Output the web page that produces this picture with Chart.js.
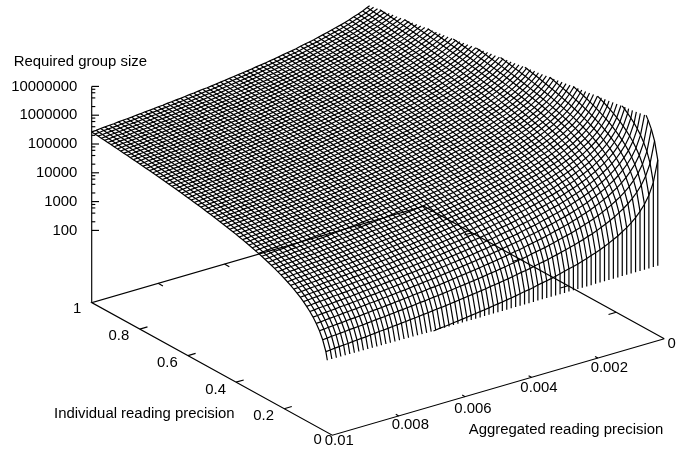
<!DOCTYPE html>
<html>
<head>
<meta charset="utf-8">
<style>html,body{margin:0;padding:0;background:#fff}canvas{display:block}</style>
<script src="https://cdn.jsdelivr.net/npm/chart.js@4"></script>
</head>
<body>
<canvas id="c" width="699" height="454"></canvas>
<script>
// ---- values ----
const aggregatedSamples = [0.0001,0.000234,0.000368,0.000501,0.000635,0.000769,0.000903,0.001036,0.00117,0.001304,0.001438,0.001572,0.001705,0.001839,0.001973,0.002107,0.00224,0.002374,0.002508,0.002642,0.002776,0.002909,0.003043,0.003177,0.003311,0.003445,0.003578,0.003712,0.003846,0.00398,0.004113,0.004247,0.004381,0.004515,0.004649,0.004782,0.004916,0.00505,0.005184,0.005317,0.005451,0.005585,0.005719,0.005853,0.005986,0.00612,0.006254,0.006388,0.006521,0.006655,0.006789,0.006923,0.007057,0.00719,0.007324,0.007458,0.007592,0.007726,0.007859,0.007993,0.008127,0.008261,0.008394,0.008528,0.008662,0.008796,0.00893,0.009063,0.009197,0.009331,0.009465,0.009599,0.009732,0.009866,0.01];
// log10(group size) along the far edge (individual precision = 1), one per aggregated sample
const log10SizeAtFullIndividual = [9.42,8.69,8.29,8.02,7.82,7.65,7.51,7.39,7.29,7.19,7.11,7.03,6.96,6.89,6.83,6.78,6.72,6.67,6.62,6.58,6.54,6.50,6.46,6.42,6.38,6.35,6.32,6.29,6.25,6.22,6.20,6.17,6.14,6.11,6.09,6.06,6.04,6.02,5.99,5.97,5.95,5.93,5.91,5.89,5.87,5.85,5.83,5.81,5.79,5.78,5.76,5.74,5.73,5.71,5.69,5.68,5.66,5.65,5.63,5.62,5.60,5.59,5.58,5.56,5.55,5.53,5.52,5.51,5.50,5.48,5.47,5.46,5.45,5.43,5.42];
const individualSamples = [0.0133,0.0267,0.04,0.0533,0.0667,0.08,0.0933,0.1067,0.12,0.1333,0.1467,0.16,0.1733,0.1867,0.2,0.2133,0.2267,0.24,0.2533,0.2667,0.28,0.2933,0.3067,0.32,0.3333,0.3467,0.36,0.3733,0.3867,0.4,0.4133,0.4267,0.44,0.4533,0.4667,0.48,0.4933,0.5067,0.52,0.5333,0.5467,0.56,0.5733,0.5867,0.6,0.6133,0.6267,0.64,0.6533,0.6667,0.68,0.6933,0.7067,0.72,0.7333,0.7467,0.76,0.7733,0.7867,0.8,0.8133,0.8267,0.84,0.8533,0.8667,0.88,0.8933,0.9067,0.92,0.9333,0.9467,0.96,0.9733,0.9867,1];
// change of log10(group size) across the surface, one per individual sample
const log10ChangeWithIndividual = [-3.75,-3.148,-2.796,-2.546,-2.352,-2.194,-2.06,-1.944,-1.842,-1.75,-1.667,-1.592,-1.522,-1.458,-1.398,-1.342,-1.289,-1.239,-1.192,-1.148,-1.106,-1.065,-1.027,-0.99,-0.954,-0.92,-0.887,-0.856,-0.825,-0.796,-0.767,-0.74,-0.713,-0.687,-0.662,-0.637,-0.614,-0.59,-0.568,-0.546,-0.524,-0.504,-0.483,-0.463,-0.444,-0.424,-0.406,-0.388,-0.37,-0.352,-0.335,-0.318,-0.301,-0.285,-0.269,-0.254,-0.238,-0.223,-0.208,-0.194,-0.179,-0.165,-0.151,-0.138,-0.124,-0.111,-0.098,-0.085,-0.072,-0.06,-0.047,-0.035,-0.023,-0.012,0];

const zTickLabels = ["100","1000","10000","100000","1000000","10000000"];
const zTickLog10 = [2,3,4,5,6,7];
const zMinorLog10 = [2.3,2.6,2.78,2.9,3.3,3.6,3.78,3.9,4.3,4.6,4.78,4.9,5.3,5.6,5.78,5.9,6.3,6.6,6.78,6.9];
const individualTicks = [0,0.2,0.4,0.6,0.8,1];
const individualTickLabels = ["0","0.2","0.4","0.6","0.8","1"];
const aggregatedTicks = [0,0.002,0.004,0.006,0.008,0.01];
const aggregatedTickLabels = ["0","0.002","0.004","0.006","0.008","0.01"];
const zAxisTitle = "Required group size";
const individualAxisTitle = "Individual reading precision";
const aggregatedAxisTitle = "Aggregated reading precision";

// ---- view of the 3D box (gnuplot-like projection onto the chart plane) ----
const view = {
  origin: [664.3, 338.8],          // floor corner aggregated=0, individual=0
  aggregatedSpan: [-332.0, 96.4],  // plane movement over aggregated 0 .. 0.01
  individualSpan: [-240.6, -132.6],// plane movement over individual 0 .. 1
  zFloorGap: 72.2,                 // height of z=100 above the floor
  pxPerDecade: 28.8,
  zMin: 2, zMax: 7
};
function project(a, i, lz) {
  const fa = a / 0.01;
  return {
    x: view.origin[0] + fa * view.aggregatedSpan[0] + i * view.individualSpan[0],
    y: view.origin[1] + fa * view.aggregatedSpan[1] + i * view.individualSpan[1]
       - (lz === null ? 0 : view.zFloorGap + (lz - view.zMin) * view.pxPerDecade)
  };
}
function clippedPolyline(samples) { // samples: [a,i,lz]; clip to the z range
  const out = [];
  const gap = {x: NaN, y: NaN};
  for (let n = 0; n < samples.length; n++) {
    const s = samples[n];
    const inside = s[2] >= view.zMin && s[2] <= view.zMax;
    if (n > 0) {
      const p = samples[n - 1];
      const pIn = p[2] >= view.zMin && p[2] <= view.zMax;
      if (pIn !== inside) {
        const lim = (pIn ? s[2] : p[2]) > view.zMax ? view.zMax : view.zMin;
        const t = (lim - p[2]) / (s[2] - p[2]);
        out.push(project(p[0] + t * (s[0] - p[0]), p[1] + t * (s[1] - p[1]), lim));
        if (!inside) out.push(gap);
      }
    }
    if (inside) out.push(project(s[0], s[1], s[2]));
  }
  return out;
}
const SURFACE_WIDTH = 1.2, AXIS_WIDTH = 1.15;
const surfaceStyle = {showLine: true, pointRadius: 0, borderColor: "#000", borderWidth: 1, fill: false, tension: 0, spanGaps: false};
const datasets = [];
function addLine(pts, w) { datasets.push(Object.assign({}, surfaceStyle, {data: pts, borderWidth: w})); }

// lines of constant aggregated precision; those still in range at the last sample drop to the z floor
aggregatedSamples.forEach((a, k) => {
  const s = [];
  for (let j = individualSamples.length - 1; j >= 0; j--)
    s.push([a, individualSamples[j], log10SizeAtFullIndividual[k] + log10ChangeWithIndividual[j]]);
  const pts = clippedPolyline(s);
  if (s[s.length - 1][2] >= view.zMin) pts.push(project(a, individualSamples[0], view.zMin));
  addLine(pts, SURFACE_WIDTH);
});
// lines of constant individual precision
individualSamples.forEach((iv, j) => {
  const s = [];
  for (let k = aggregatedSamples.length - 1; k >= 0; k--)
    s.push([aggregatedSamples[k], iv, log10SizeAtFullIndividual[k] + log10ChangeWithIndividual[j]]);
  addLine(clippedPolyline(s), SURFACE_WIDTH);
});

// box floor
const A0 = aggregatedTicks[0], A1 = aggregatedTicks[5], I0 = individualTicks[0], I1 = individualTicks[5];
addLine([project(A0,I0,null), project(A1,I0,null), project(A1,I1,null), project(A0,I1,null), project(A0,I0,null)], AXIS_WIDTH);
// z axis
const zBase = project(A1, I1, null), zTop = project(A1, I1, 7);
addLine([zBase, zTop], AXIS_WIDTH);
zTickLog10.forEach(v => { const p = project(A1, I1, v); addLine([p, {x: p.x + 7.3, y: p.y}], AXIS_WIDTH); });
zMinorLog10.forEach(v => { const p = project(A1, I1, v); addLine([p, {x: p.x + 3.6, y: p.y}], AXIS_WIDTH); });
// floor ticks on front and mirrored edges
individualTicks.slice(1, 5).forEach(v => {
  addLine([project(A1, v, null), project(A1 - 0.00023, v, null)], AXIS_WIDTH);
  addLine([project(A0, v, null), project(A0 + 0.00023, v, null)], AXIS_WIDTH);
});
aggregatedTicks.slice(1, 5).forEach(v => {
  addLine([project(v, I0, null), project(v, 0.012, null)], AXIS_WIDTH);
  addLine([project(v, I1, null), project(v, 0.98, null)], AXIS_WIDTH);
});

// ---- text, placed relative to projected ticks ----
const FONT = '14.9px "Liberation Sans", Arial, sans-serif';
const individualLabelOffset = [[-14.6, 5], [-20.5, 7.5], [-20.5, 7.5], [-20.5, 7.5], [-21, 7], [-14.6, 6]];
const aggregatedLabelOffset = [[7.4, 5], [11.4, 9.8], [7.5, 10.6], [7.9, 12.1], [11.6, 8.9], [7, 6]];
const textPlugin = {
  id: "boxText",
  afterDatasetsDraw(chart) {
    const c = chart.ctx, X = chart.scales.x, Y = chart.scales.y;
    c.save();
    c.fillStyle = "#000"; c.font = FONT; c.textBaseline = "middle";
    const put = (t, px, py, al) => { c.textAlign = al; c.fillText(t, X.getPixelForValue(px), Y.getPixelForValue(py)); };
    zTickLog10.forEach((v, n) => { const p = project(A1, I1, v); put(zTickLabels[n], p.x - 14.3, p.y, "right"); });
    individualTicks.forEach((v, n) => {
      const p = project(A1, v, null), o = individualLabelOffset[n];
      put(individualTickLabels[n], p.x + o[0], p.y + o[1], "center");
    });
    aggregatedTicks.forEach((v, n) => {
      const p = project(v, I0, null), o = aggregatedLabelOffset[n];
      put(aggregatedTickLabels[n], p.x + o[0], p.y + o[1], "center");
    });
    put(zAxisTitle, 80.3, 62, "center");
    put(individualAxisTitle, 144.3, 414.3, "center");
    put(aggregatedAxisTitle, 566, 429.7, "center");
    c.restore();
  }
};

new Chart(document.getElementById("c"), {
  type: "scatter",
  data: {datasets},
  options: {
    responsive: false, animation: false, devicePixelRatio: 1,
    layout: {padding: 0},
    plugins: {legend: {display: false}, tooltip: {enabled: false}, title: {display: false}},
    scales: {
      x: {type: "linear", min: 0, max: 699, display: false},
      y: {type: "linear", min: 0, max: 454, reverse: true, display: false}
    }
  },
  plugins: [textPlugin]
});
</script>
</body>
</html>
